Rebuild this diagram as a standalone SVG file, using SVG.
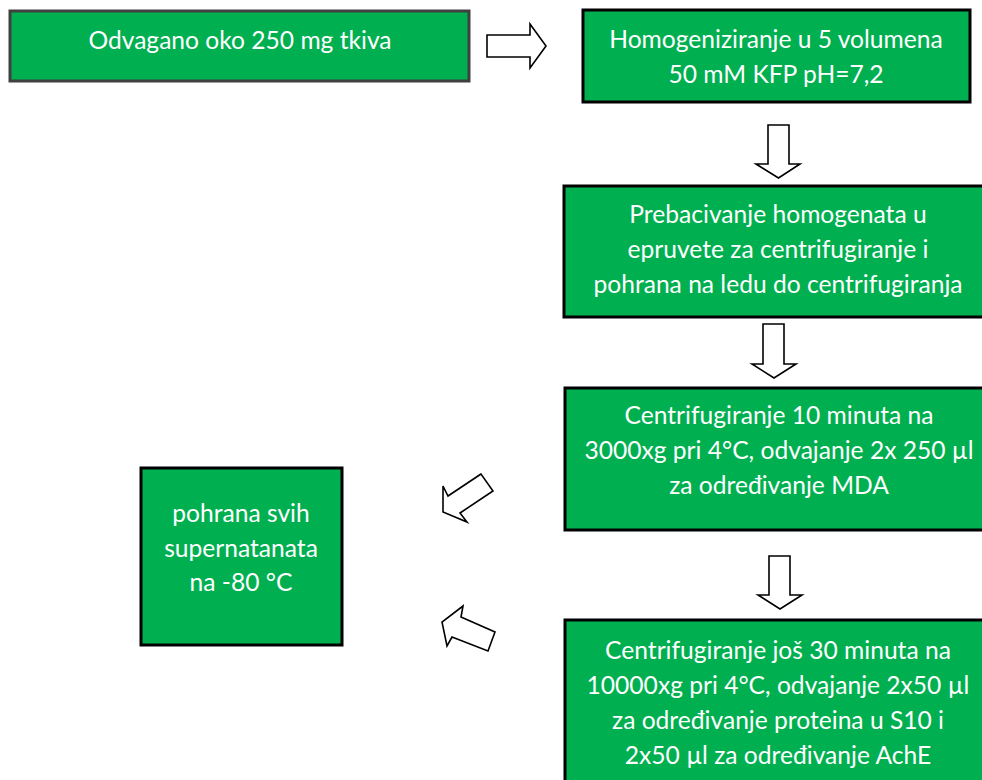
<svg xmlns="http://www.w3.org/2000/svg" width="982" height="780" viewBox="0 0 982 780">
<style>
.box{fill:#00B050;stroke:#000;stroke-width:3}
.box1{fill:#00B050;stroke:#404040;stroke-width:3}
.t{font-family:Lato,"Noto Sans",sans-serif;font-size:24.6px;fill:#fff;text-anchor:middle}
.arr{fill:#fff;stroke:#000;stroke-width:1.6;stroke-linejoin:miter}
</style>
<rect width="982" height="780" fill="#fff"/>
<g id="n1"><rect class="box1" x="10" y="11" width="459" height="70"/><text class="t" x="240" y="49">Odvagano oko 250 mg tkiva</text></g>
<g id="n2"><rect class="box" x="583" y="10" width="387" height="92"/><text class="t" x="776" y="48">Homogeniziranje u 5 volumena</text><text class="t" x="776" y="83">50 mM KFP pH=7,2</text></g>
<g id="n3"><rect class="box" x="564" y="186" width="430" height="131"/><text class="t" x="778" y="223">Prebacivanje homogenata u</text><text class="t" x="778" y="258">epruvete za centrifugiranje i</text><text class="t" x="778" y="293">pohrana na ledu do centrifugiranja</text></g>
<g id="n4"><rect class="box" x="565" y="388" width="430" height="142"/><text class="t" x="779" y="424">Centrifugiranje 10 minuta na</text><text class="t" x="779" y="459">3000xg pri 4°C, odvajanje 2x 250 µl</text><text class="t" x="779" y="494">za određivanje MDA</text></g>
<g id="n5"><rect class="box" x="565" y="620" width="430" height="180"/><text class="t" x="778" y="659">Centrifugiranje još 30 minuta na</text><text class="t" x="778" y="694">10000xg pri 4°C, odvajanje 2x50 µl</text><text class="t" x="778" y="729">za određivanje proteina u S10 i</text><text class="t" x="778" y="764">2x50 µl za određivanje AchE</text></g>
<g id="n6"><rect class="box" x="141" y="468" width="201" height="177"/><text class="t" x="241" y="522">pohrana svih</text><text class="t" x="241" y="557">supernatanata</text><text class="t" x="241" y="591">na -80 °C</text></g>
<g id="connectors">
<polygon class="arr" points="487,35 530,35 530,24 546,46 530,68 530,57 487,57"/>
<polygon class="arr" points="768,125 789,125 789,164 800,164 778.5,178 756,164 768,164"/>
<polygon class="arr" points="763,324 784,324 784,364 796,364 774,378 752,364 763,364"/>
<polygon class="arr" points="769,556 790,556 790,595 802,595 780,609 758,595 769,595"/>
<polygon class="arr" points="481,474 448,496 443,486 443,512 467,522 460,513 493,491"/>
<polygon class="arr" points="463,606 461,617 495,632 488,651 452,637 447,646 442,622"/>
</g>
</svg>
